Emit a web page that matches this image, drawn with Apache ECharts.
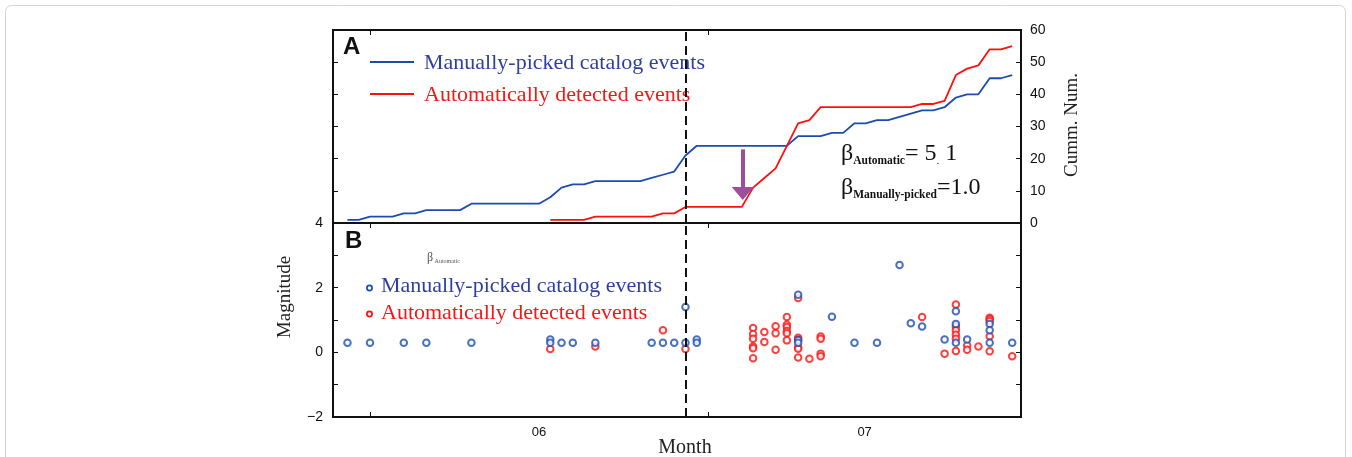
<!DOCTYPE html>
<html><head><meta charset="utf-8">
<script src="https://cdn.jsdelivr.net/npm/echarts@6/dist/echarts.min.js"></script>
<style>html,body{margin:0;padding:0;background:#fff}#c{width:1352px;height:457px}</style>
</head><body><div id="c"></div>
<script>
// x values are days counted from 1 June (30 = 1 July)
const monthTickDays = [0, 30];
const monthLabelDays = [15, 43.9];
const monthLabels = ['06', '07'];
const eventDay = 28.05;            // dashed vertical line
const arrowDay = 33.08;            // purple arrow position
const arrowFrom = 22.9, arrowTo = 9.2;

// Panel A: cumulative numbers
const manualCumDays = [-2,-1,0,2,3,4,5,8,9,15,16,17,18,19,20,24,25,26,27,28,29,37,38,40,41,42,43,44,45,46,47,48,49,50,51,52,53,54,55,56,57];
const manualCum     = [1,1,2,2,3,3,4,4,6,6,8,11,12,12,13,13,14,15,16,21,24,24,27,27,28,28,31,31,32,32,33,34,35,35,36,39,40,40,45,45,46];
const autoCumDays = [16,19,20,25,26,27,28,33,34,35,36,37,38,39,40,48,49,50,51,52,53,54,55,56,57];
const autoCum     = [1,1,2,2,3,3,5,5,11,14,17,24,31,32,36,36,37,37,38,46,48,49,54,54,55];

// Panel B: magnitudes
const manualDays = [-2,0,3,5,9,16,16,17,18,20,25,26,27,28,28,29,29,38,38,38,41,43,45,47,48,49,51,52,52,52,53,55,55,55,57];
const manualMag  = [0.3,0.3,0.3,0.3,0.3,0.4,0.3,0.3,0.3,0.3,0.3,0.3,0.3,0.3,1.4,0.4,0.3,1.78,0.38,0.3,1.1,0.3,0.3,2.7,0.9,0.8,0.4,1.27,0.88,0.3,0.4,0.88,0.68,0.3,0.3];
const autoDays = [16,20,26,28,34,34,34,34,34,34,35,35,36,36,36,37,37,37,37,37,37,38,38,38,38,38,38,39,40,40,40,40,49,51,52,52,52,52,52,52,53,53,54,55,55,55,55,55,57];
const autoMag  = [0.1,0.18,0.68,0.1,0.75,0.57,0.42,0.18,0.13,-0.18,0.63,0.32,0.81,0.59,0.08,1.09,0.85,0.78,0.66,0.59,0.37,1.68,0.45,0.39,0.16,0.11,-0.16,-0.2,0.49,0.42,-0.04,-0.12,1.09,-0.04,1.48,0.8,0.68,0.54,0.42,0.04,0.22,0.08,0.18,1.07,1.02,0.96,0.5,0.03,-0.12];

const zip = (a, b) => a.map((v, i) => [v, b[i]]);
const BLUE = '#1c4cb2', RED = '#ff1010', TXTBLUE = '#2f3f9f', TXTRED = '#f01818';
const SERIF = '"Liberation Serif","Times New Roman",serif';
const SANS = '"Liberation Sans",Arial,sans-serif';
const XMIN = -3.284, XMAX = 57.78;

const axisLine = {show: true, onZero: false, lineStyle: {color: '#111', width: 2}};
const tickIn = {show: true, inside: true, length: 5, lineStyle: {color: '#111', width: 1}};
function xAx(grid, pos, extra) {
  return Object.assign({type: 'value', gridIndex: grid, position: pos, min: XMIN, max: XMAX,
    axisLine: axisLine, splitLine: {show: false},
    axisTick: Object.assign({}, tickIn, {customValues: monthTickDays}),
    axisLabel: {show: false}}, extra || {});
}
function yAx(grid, pos, min, max, interval, label) {
  return {type: 'value', gridIndex: grid, position: pos, min: min, max: max, interval: interval,
    axisLine: axisLine, splitLine: {show: false}, axisTick: tickIn,
    axisLabel: label || {show: false}};
}

const chart = echarts.init(document.getElementById('c'), null, {renderer: 'canvas'});
chart.setOption({
  animation: false,
  backgroundColor: '#fff',
  grid: [
    {left: 333, top: 30, width: 688, height: 193, show: true, borderColor: '#111', borderWidth: 2, backgroundColor: 'transparent'},
    {left: 333, top: 223, width: 688, height: 194, show: true, borderColor: '#111', borderWidth: 2, backgroundColor: 'transparent'}
  ],
  xAxis: [
    xAx(0, 'bottom', {axisTick: {show: false}}),
    xAx(0, 'top'),
    xAx(1, 'bottom', {axisLabel: {show: true, customValues: monthLabelDays, margin: 9,
      fontFamily: SANS, fontSize: 13, color: '#111',
      formatter: v => monthLabels[monthLabelDays.indexOf(v)] || ''}}),
    xAx(1, 'top')
  ],
  yAxis: [
    yAx(0, 'right', 0, 60, 10, {show: true, margin: 9, fontFamily: SANS, fontSize: 14, color: '#111'}),
    yAx(0, 'left', 0, 60, 10),
    yAx(1, 'left', -2, 4, 1, {show: true, margin: 10, fontFamily: SANS, fontSize: 14, color: '#111',
      formatter: v => (v % 2 === 0 ? (v < 0 ? '\u2212' + Math.abs(v) : String(v)) : '')}),
    yAx(1, 'right', -2, 4, 1)
  ],
  series: [
    {type: 'line', name: 'manual-cum', xAxisIndex: 0, yAxisIndex: 0, data: zip(manualCumDays, manualCum),
      showSymbol: false, symbol: 'none', lineStyle: {color: BLUE, width: 1.8}, itemStyle: {color: BLUE}, silent: true,
      markLine: {silent: true, symbol: 'none', label: {show: false},
        lineStyle: {color: '#111', width: 2, type: [9, 5]}, data: [{xAxis: eventDay}]}},
    {type: 'line', name: 'auto-cum', xAxisIndex: 0, yAxisIndex: 0, data: zip(autoCumDays, autoCum),
      showSymbol: false, symbol: 'none', lineStyle: {color: RED, width: 1.8}, itemStyle: {color: RED}, silent: true,
      markLine: {silent: true, symbol: ['none', 'triangle'], symbolSize: [22, 13], label: {show: false},
        lineStyle: {color: '#9c4f9c', width: 4, type: 'solid'},
        data: [[{coord: [arrowDay, arrowFrom]}, {coord: [arrowDay, arrowTo]}]]}},
    {type: 'scatter', name: 'auto-mag', xAxisIndex: 2, yAxisIndex: 2, data: zip(autoDays, autoMag),
      symbol: 'emptyCircle', symbolSize: 6.5, itemStyle: {color: RED, borderColor: RED, borderWidth: 1.7}, silent: true},
    {type: 'scatter', name: 'manual-mag', xAxisIndex: 2, yAxisIndex: 2, data: zip(manualDays, manualMag),
      symbol: 'emptyCircle', symbolSize: 6.5, itemStyle: {color: BLUE, borderColor: BLUE, borderWidth: 1.7}, silent: true,
      markLine: {silent: true, symbol: 'none', label: {show: false},
        lineStyle: {color: '#111', width: 2, type: [9, 5]}, data: [{xAxis: eventDay}]}}
  ],
  graphic: [
    {type: 'rect', shape: {x: 5.5, y: 5.5, width: 1340, height: 480, r: 6}, style: {fill: 'none', stroke: '#d4d4d4', lineWidth: 1}, silent: true},
    {type: 'text', x: 343, y: 47, style: {text: 'A', font: 'bold 24px ' + SANS, fill: '#111', verticalAlign: 'middle'}},
    {type: 'text', x: 345, y: 241, style: {text: 'B', font: 'bold 24px ' + SANS, fill: '#111', verticalAlign: 'middle'}},
    // legend panel A
    {type: 'line', shape: {x1: 370, y1: 62, x2: 414, y2: 62}, style: {stroke: BLUE, lineWidth: 1.8}},
    {type: 'text', x: 424, y: 63, style: {text: 'Manually-picked catalog events', font: '22px ' + SERIF, fill: TXTBLUE, verticalAlign: 'middle'}},
    {type: 'line', shape: {x1: 370, y1: 94, x2: 414, y2: 94}, style: {stroke: RED, lineWidth: 1.8}},
    {type: 'text', x: 424, y: 95, style: {text: 'Automatically detected events', font: '22px ' + SERIF, fill: TXTRED, verticalAlign: 'middle'}},
    // legend panel B
    {type: 'circle', shape: {cx: 369.5, cy: 288, r: 2.6}, style: {fill: 'none', stroke: BLUE, lineWidth: 1.7}},
    {type: 'text', x: 381, y: 286, style: {text: 'Manually-picked catalog events', font: '22px ' + SERIF, fill: TXTBLUE, verticalAlign: 'middle'}},
    {type: 'circle', shape: {cx: 369.5, cy: 314, r: 2.6}, style: {fill: 'none', stroke: RED, lineWidth: 1.7}},
    {type: 'text', x: 381, y: 313, style: {text: 'Automatically detected events', font: '22px ' + SERIF, fill: TXTRED, verticalAlign: 'middle'}},
    // small stray label
    {type: 'text', x: 427, y: 258, style: {text: '{b|\u03b2}{s| Automatic}', verticalAlign: 'middle', fill: '#555',
      rich: {b: {fontFamily: SERIF, fontSize: 12, fill: '#555', lineHeight: 12}, s: {fontFamily: SERIF, fontSize: 6, fill: '#555', lineHeight: 6, verticalAlign: 'bottom'}}}},
    // beta annotations
    {type: 'text', x: 841, y: 154, style: {text: '{b|\u03b2}{s|Automatic}{n|= 5}{d|.}{n| 1}', verticalAlign: 'middle', fill: '#111',
      rich: {b: {fontFamily: SERIF, fontSize: 24, lineHeight: 26, fill: '#111'},
             s: {fontFamily: SERIF, fontSize: 11.5, fontWeight: 'bold', lineHeight: 11, verticalAlign: 'bottom', fill: '#111'},
             n: {fontFamily: SERIF, fontSize: 24, lineHeight: 26, fill: '#111'},
             d: {fontFamily: SERIF, fontSize: 11, lineHeight: 11, verticalAlign: 'bottom', fill: '#111'}}}},
    {type: 'text', x: 841, y: 188, style: {text: '{b|\u03b2}{s|Manually-picked}{n|=1.0}', verticalAlign: 'middle', fill: '#111',
      rich: {b: {fontFamily: SERIF, fontSize: 24, lineHeight: 26, fill: '#111'},
             s: {fontFamily: SERIF, fontSize: 11.5, fontWeight: 'bold', lineHeight: 11, verticalAlign: 'bottom', fill: '#111'},
             n: {fontFamily: SERIF, fontSize: 24, lineHeight: 26, fill: '#111'}}}},
    // axis titles
    {type: 'text', x: 1072, y: 125, rotation: Math.PI / 2, style: {text: 'Cumm. Num.', font: '19px ' + SERIF, fill: '#222', align: 'center', verticalAlign: 'middle'}},
    {type: 'text', x: 285, y: 297, rotation: Math.PI / 2, style: {text: 'Magnitude', font: '19px ' + SERIF, fill: '#222', align: 'center', verticalAlign: 'middle'}},
    {type: 'text', x: 685, y: 448, style: {text: 'Month', font: '20px ' + SERIF, fill: '#222', align: 'center', verticalAlign: 'middle'}}
  ]
});
</script>
</body></html>
